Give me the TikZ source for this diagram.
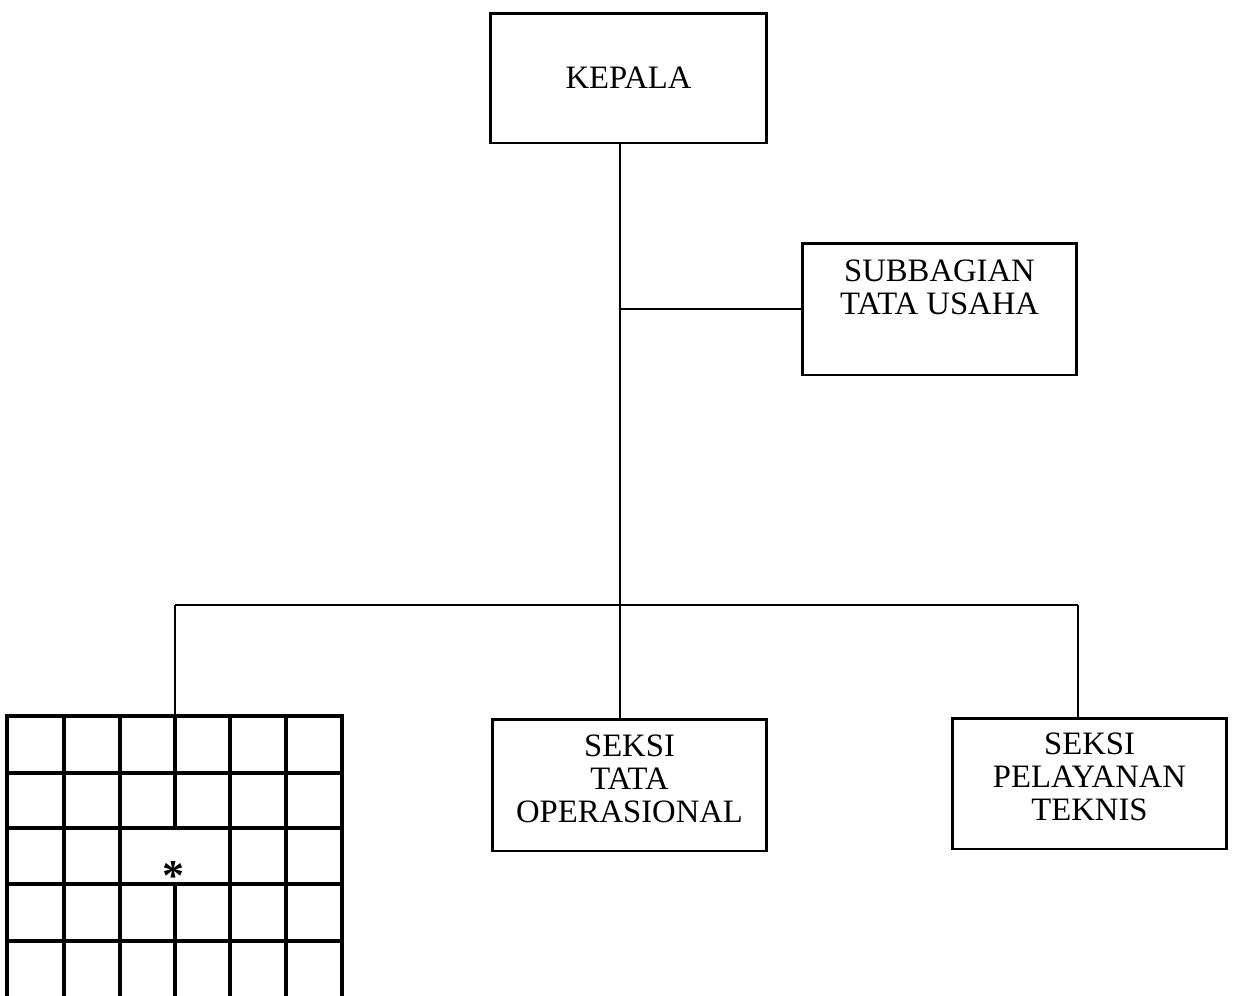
\documentclass[tikz,border=0pt]{standalone}
\usepackage{fontspec}
\setmainfont{Liberation Serif}
\usetikzlibrary{positioning}

\begin{document}
\begin{tikzpicture}[x=0.02cm, y=-0.02cm,
    unit/.style={draw, line width=1.7pt, inner sep=0pt,
      minimum width=5.5cm, minimum height=2.64cm},
    unitlabel/.style={align=center, inner sep=0pt,
      font=\fontsize{18.6}{18.6}\selectfont},
    link/.style={line width=1.4pt},
    gridline/.style={line width=2pt, line cap=rect}]
  \useasboundingbox (0,0) rectangle (1237,995);

  % boxes
  \node[unit, unitlabel, minimum width=5.54cm, minimum height=2.6cm] (kepala) at (628.5,78) {KEPALA};
  \node[unit] (tatausaha) at (939.5,309) {};
  \node[unit] (operasional) at (629.5,785) {};
  \node[unit, minimum height=2.62cm] (pelayanan) at (1089.5,783.5) {};

  % texts of the boxes
  \node[unitlabel] (tatausahatext) at (939.5,287) {SUBBAGIAN\\TATA USAHA};
  \node[unitlabel] (operasionaltext) at (629.5,779) {SEKSI\\TATA\\OPERASIONAL};
  \node[unitlabel] (pelayanantext) at (1089.5,777) {SEKSI\\PELAYANAN\\TEKNIS};

  % connectors
  \coordinate (trunk) at (620,605);
  \coordinate (busleft) at (175,605);
  \coordinate (busright) at (1078,605);
  \coordinate (gridtop) at (175,716);
  \draw[link] (kepala.south -| trunk) -- (trunk);
  \draw[link] (trunk |- tatausaha.west) -- (tatausaha.west);
  \draw[link] (busleft) -- (busright);
  \draw[link] (busleft) -- (gridtop);
  \draw[link] (trunk) -- (trunk |- operasional.north);
  \draw[link] (busright) -- (busright |- pelayanan.north);

  % grid
  \foreach \x in {7,64,120,230,286,342}
    \draw[gridline] (\x,716) -- (\x,995);
  \draw[gridline] (gridtop) -- (175,828);
  \draw[gridline] (175,884) -- (175,995);
  \foreach \y in {716,773,828,884,941}
    \draw[gridline] (7,\y) -- (342,\y);
  \node[font=\fontsize{25}{25}\selectfont\bfseries, inner sep=0pt] (star) at (173,876) {*};
\end{tikzpicture}
\end{document}
